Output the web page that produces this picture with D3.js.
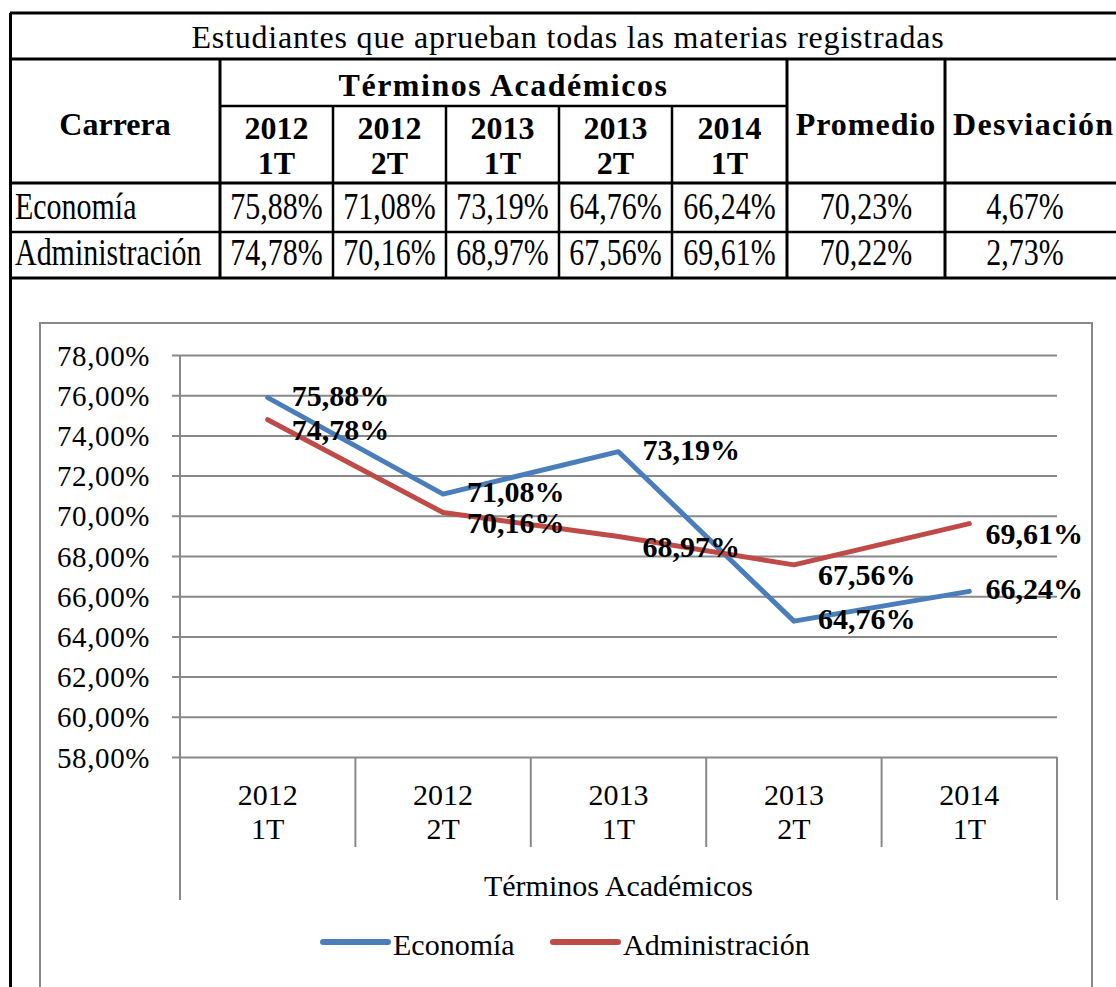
<!DOCTYPE html>
<html>
<head>
<meta charset="utf-8">
<script src="https://cdn.jsdelivr.net/npm/d3@7"></script>
<style>
  html, body { margin: 0; padding: 0; background: #fff; }
  svg { display: block; }
  text { font-family: "Liberation Serif", "Times New Roman", Times, serif; fill: #000; }
</style>
</head>
<body>
<svg id="chart" width="1116" height="987"></svg>
<script>
// ---- data ----
const titleText = "Estudiantes que aprueban todas las materias registradas";
const groupHeader = "Términos Académicos";
const careerHeader = "Carrera";
const statHeaders = ["Promedio", "Desviación"];
const termYears = ["2012", "2012", "2013", "2013", "2014"];
const termParts = ["1T", "2T", "1T", "2T", "1T"];
const categories = ["2012 1T", "2012 2T", "2013 1T", "2013 2T", "2014 1T"];
const careers = ["Economía", "Administración"];
const economia = [75.88, 71.08, 73.19, 64.76, 66.24];
const administracion = [74.78, 70.16, 68.97, 67.56, 69.61];
const promedio = [70.23, 70.22];
const desviacion = [4.67, 2.73];
const yTickValues = [58, 60, 62, 64, 66, 68, 70, 72, 74, 76, 78];
const axisTitle = "Términos Académicos";
const seriesColors = ["#4A7EBB", "#BE4B48"];

const fmt = v => v.toFixed(2).replace(".", ",") + "%";

const svg = d3.select("#chart");
svg.append("rect").attr("width", 1116).attr("height", 987).attr("fill", "#fff");

// ---- table ----
const T = svg.append("g");
const colX = [10, 220, 333, 446, 559, 672, 787, 945, 1130];
const rowY = [13, 59, 106, 183, 232, 278];
const line = (x1, y1, x2, y2, w) => T.append("line")
  .attr("x1", x1).attr("y1", y1).attr("x2", x2).attr("y2", y2)
  .attr("stroke", "#000").attr("stroke-width", w);

line(10, rowY[0], 1116, rowY[0], 3);
line(10.5, rowY[0], 10.5, 987, 3);
line(10, rowY[1], 1116, rowY[1], 3);
line(colX[1], rowY[2], colX[6], rowY[2], 2.5);
line(10, rowY[3], 1116, rowY[3], 3);
line(10, rowY[4], 1116, rowY[4], 2.5);
line(10, rowY[5], 1116, rowY[5], 3);
line(colX[1], rowY[1], colX[1], rowY[5], 3);
for (let i = 2; i <= 5; i++) line(colX[i], rowY[2], colX[i], rowY[5], 2.5);
line(colX[6], rowY[1], colX[6], rowY[5], 3);
line(colX[7], rowY[1], colX[7], rowY[5], 3);

T.append("text").attr("x", 568).attr("y", 48).attr("text-anchor", "middle")
  .style("font-size", "32px").style("letter-spacing", "0.8px").text(titleText);

const bold = (x, y, s, anchor) => T.append("text").attr("x", x).attr("y", y)
  .attr("text-anchor", anchor || "middle").style("font-size", "32px")
  .style("font-weight", "bold").text(s);

bold((colX[1] + colX[6]) / 2, 96, groupHeader).style("letter-spacing", "1.5px");
bold((colX[0] + colX[1]) / 2, 135, careerHeader);
termYears.forEach((yr, i) => {
  const cx = (colX[i + 1] + colX[i + 2]) / 2;
  bold(cx, 139, yr);
  bold(cx, 174, termParts[i]);
});
bold((colX[6] + colX[7]) / 2, 135, statHeaders[0]).style("letter-spacing", "1px");
bold(953, 135, statHeaders[1], "start").style("letter-spacing", "1.4px");

const cell = (x, y, s, anchor) => T.append("text")
  .attr("transform", `translate(${x},${y}) scale(0.81,1)`)
  .attr("text-anchor", anchor || "middle").style("font-size", "37px").text(s);

const rows = [economia, administracion];
rows.forEach((vals, r) => {
  const by = rowY[3 + r + 1] - 13;
  cell(15, by, careers[r], "start");
  vals.forEach((v, i) => cell((colX[i + 1] + colX[i + 2]) / 2, by, fmt(v)));
  cell((colX[6] + colX[7]) / 2, by, fmt(promedio[r]));
  cell(1025, by, fmt(desviacion[r]));
});

// ---- chart ----
const gray = "#898989";
svg.append("rect").attr("x", 40).attr("y", 323).attr("width", 1052).attr("height", 720)
  .attr("fill", "none").attr("stroke", gray).attr("stroke-width", 2);

const plotL = 180, plotR = 1057, plotT = 355, plotB = 757;
const x = d3.scaleBand().domain(categories).range([plotL, plotR]);
const y = d3.scaleLinear().domain([58, 78]).range([plotB, plotT]);

// gridlines + tick labels
const yAxis = d3.axisLeft(y).tickValues(yTickValues).tickSize(plotR - 172).tickPadding(22)
  .tickFormat(fmt);
const gy = svg.append("g").attr("transform", `translate(${plotR},0)`).call(yAxis);
gy.select(".domain").remove();
gy.selectAll(".tick line").attr("stroke", gray).attr("stroke-width", 2);
gy.selectAll(".tick text").attr("dy", null).attr("y", 10)
  .style("font-family", '"Liberation Serif", "Times New Roman", serif')
  .style("font-size", "29px").style("letter-spacing", "0.6px").attr("fill", "#000");

// vertical axis & category separators
svg.append("line").attr("x1", plotL).attr("x2", plotL).attr("y1", plotT).attr("y2", 900)
  .attr("stroke", gray).attr("stroke-width", 2);
svg.append("line").attr("x1", plotR).attr("x2", plotR).attr("y1", plotB).attr("y2", 900)
  .attr("stroke", gray).attr("stroke-width", 2);
categories.slice(1).forEach(c => {
  svg.append("line").attr("x1", x(c)).attr("x2", x(c)).attr("y1", plotB).attr("y2", 847)
    .attr("stroke", gray).attr("stroke-width", 2);
});

// category labels
const xAxis = d3.axisBottom(x).tickSize(0).tickPadding(0);
const gx = svg.append("g").attr("transform", `translate(0,${plotB})`).call(xAxis);
gx.select(".domain").remove();
gx.selectAll(".tick text").each(function (d, i) {
  const t = d3.select(this).text(null).attr("y", 0).attr("dy", null)
    .style("font-family", '"Liberation Serif", "Times New Roman", serif')
    .style("font-size", "30px").attr("fill", "#000");
  t.append("tspan").attr("x", 0).attr("y", 48).text(termYears[i]);
  t.append("tspan").attr("x", 0).attr("y", 82).text(termParts[i]);
});

svg.append("text").attr("x", (plotL + plotR) / 2).attr("y", 896).attr("text-anchor", "middle")
  .style("font-size", "30px").text(axisTitle);

// series lines
const series = [economia, administracion];
const lineGen = d3.line().x((d, i) => x(categories[i]) + x.bandwidth() / 2).y(d => y(d));
series.forEach((vals, s) => {
  svg.append("path").datum(vals).attr("d", lineGen).attr("fill", "none")
    .attr("stroke", seriesColors[s]).attr("stroke-width", 5)
    .attr("stroke-linecap", "round").attr("stroke-linejoin", "round");
});

// data labels
const labelDy = [-2, 10];
series.forEach((vals, s) => {
  vals.forEach((v, i) => {
    const px = x(categories[i]) + x.bandwidth() / 2;
    const py = y(v);
    const t = svg.append("text").attr("y", py + labelDy[s] + 10)
      .style("font-size", "30px").style("font-weight", "bold").text(fmt(v));
    const w = t.node().getComputedTextLength();
    t.attr("x", Math.min(px + 24, 1083 - w));
  });
});

// legend
const legendItems = [{ name: careers[0], x: 323 }, { name: careers[1], x: 553 }];
legendItems.forEach((it, s) => {
  svg.append("line").attr("x1", it.x).attr("x2", it.x + 65).attr("y1", 942).attr("y2", 942)
    .attr("stroke", seriesColors[s]).attr("stroke-width", 6).attr("stroke-linecap", "round");
  svg.append("text").attr("x", it.x + 70).attr("y", 955).style("font-size", "30px").text(it.name);
});
</script>
</body>
</html>
